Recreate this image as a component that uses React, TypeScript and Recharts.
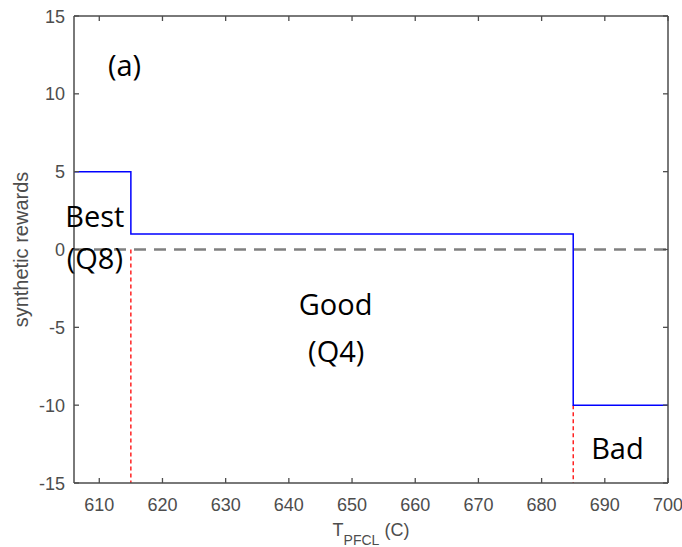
import React from 'react';
import {
  LineChart,
  Line,
  XAxis,
  YAxis,
  ReferenceLine,
  ReferenceDot,
  Label,
} from 'recharts';

// Piecewise-constant reward as a function of PFCL temperature
const tempPoints = [606, 615, 685, 700];
const rewardValues = [5, 1, -10, -10];

// Region boundaries (red dashed markers) and where they start from
const boundaryTemps = [615, 685];
const boundaryTops = [0, -10];

const xTicks = [610, 620, 630, 640, 650, 660, 670, 680, 690, 700];
const yTicks = [-15, -10, -5, 0, 5, 10, 15];

// Region annotations (anchored at text baseline centre)
const noteTexts = ['(a)', 'Best', '(Q8)', 'Good', '(Q4)', 'Bad'];
const noteTemps = [614.0, 609.3, 609.3, 647.4, 647.5, 692.0];
const noteRewards = [11.15, 1.45, -1.25, -4.2, -7.2, -13.46];

const data = tempPoints.map((t, i) => ({ t, r: rewardValues[i] }));

const AXIS = '#4d4d4d';
const LABEL_FAMILY = 'Liberation Sans, Arial, sans-serif';
const NOTE_FONT = 'Open Sans, Lato, sans-serif';
const TICK_LEN = 5;
const X_MARGIN = 15;
const Y_MARGIN = 9;

// Inward tick marks drawn together with the tick labels (box-style axes)
const BottomTick = (p: any) => (
  <g>
    <line x1={p.x} x2={p.x} y1={p.y - X_MARGIN} y2={p.y - X_MARGIN - TICK_LEN} stroke={AXIS} strokeWidth={1.3} />
    <text x={p.x} y={p.y + 13} textAnchor="middle" fontFamily={LABEL_FAMILY} fontSize={18} fill="#4d4d4d">
      {p.payload.value}
    </text>
  </g>
);

const LeftTick = (p: any) => (
  <g>
    <line x1={p.x + Y_MARGIN} x2={p.x + Y_MARGIN + TICK_LEN} y1={p.y} y2={p.y} stroke={AXIS} strokeWidth={1.3} />
    <text x={p.x} y={p.y + 6.5} textAnchor="end" fontFamily={LABEL_FAMILY} fontSize={18} fill="#4d4d4d">
      {p.payload.value}
    </text>
  </g>
);

const TopTick = (p: any) => (
  <line x1={p.x} x2={p.x} y1={p.y} y2={p.y + TICK_LEN} stroke={AXIS} strokeWidth={1.3} />
);

const RightTick = (p: any) => (
  <line x1={p.x} x2={p.x - TICK_LEN} y1={p.y} y2={p.y} stroke={AXIS} strokeWidth={1.3} />
);

export default function App() {
  return (
    <div style={{ position: 'absolute', left: 0, top: 0, width: 682, height: 547, background: '#fff' }}>
      <LineChart
        width={682}
        height={547}
        data={data}
        margin={{ top: 15, right: 13, bottom: 0, left: 0 }}
      >
        <XAxis
          dataKey="t"
          type="number"
          domain={[606, 700]}
          ticks={xTicks}
          allowDataOverflow
          height={64}
          stroke={AXIS}
          strokeWidth={1.5}
          tickLine={false}
          tickSize={0}
          tickMargin={X_MARGIN}
          tick={BottomTick}
        >
          <Label
            content={(props: any) => {
              const vb = props.viewBox;
              const cx = vb.x + vb.width / 2;
              return (
                <text
                  x={cx}
                  y={vb.y + 53}
                  textAnchor="middle"
                  fontFamily={LABEL_FAMILY}
                  fontSize={18}
                  fill="#4d4d4d"
                >
                  T
                  <tspan dy={9} fontSize={14}>PFCL</tspan>
                  <tspan dy={-9}> (C)</tspan>
                </text>
              );
            }}
          />
        </XAxis>
        <XAxis
          xAxisId="top"
          orientation="top"
          dataKey="t"
          type="number"
          domain={[606, 700]}
          ticks={xTicks}
          allowDataOverflow
          height={1}
          stroke={AXIS}
          strokeWidth={1.5}
          tickLine={false}
          tickSize={0}
          tickMargin={0}
          tick={TopTick}
        />
        <YAxis
          type="number"
          domain={[-15, 15]}
          ticks={yTicks}
          allowDataOverflow
          width={74}
          stroke={AXIS}
          strokeWidth={1.5}
          tickLine={false}
          tickSize={0}
          tickMargin={Y_MARGIN}
          tick={LeftTick}
        >
          <Label
            content={(props: any) => {
              const vb = props.viewBox;
              const cy = vb.y + vb.height / 2;
              return (
                <text
                  x={28}
                  y={cy}
                  transform={`rotate(-90, 28, ${cy})`}
                  textAnchor="middle"
                  fontFamily={LABEL_FAMILY}
                  fontSize={20}
                  fill="#4d4d4d"
                >
                  synthetic rewards
                </text>
              );
            }}
          />
        </YAxis>
        <YAxis
          yAxisId="right"
          orientation="right"
          type="number"
          domain={[-15, 15]}
          ticks={yTicks}
          allowDataOverflow
          width={1}
          stroke={AXIS}
          strokeWidth={1.5}
          tickLine={false}
          tickSize={0}
          tickMargin={0}
          tick={RightTick}
        />

        <ReferenceLine y={0} stroke="#808080" strokeWidth={2.5} strokeDasharray="12 8" />

        {boundaryTemps.map((bt, i) => (
          <ReferenceLine
            key={`b-${bt}`}
            segment={[
              { x: bt, y: boundaryTops[i] },
              { x: bt, y: -15 },
            ]}
            stroke="#ff0000"
            strokeWidth={1.3}
            strokeDasharray="4 3"
          />
        ))}

        <Line
          type="stepAfter"
          dataKey="r"
          stroke="#0000ff"
          strokeWidth={1.5}
          dot={false}
          isAnimationActive={false}
        />

        {noteTexts.map((txt, i) => (
          <ReferenceDot
            key={`n-${i}`}
            x={noteTemps[i]}
            y={noteRewards[i]}
            r={0}
            ifOverflow="visible"
            shape={(p: any) => (
              <text
                x={p.cx}
                y={p.cy}
                textAnchor="middle"
                fontFamily={NOTE_FONT}
                fontSize={29}
                fill="#000"
              >
                {txt}
              </text>
            )}
          />
        ))}
      </LineChart>
    </div>
  );
}
